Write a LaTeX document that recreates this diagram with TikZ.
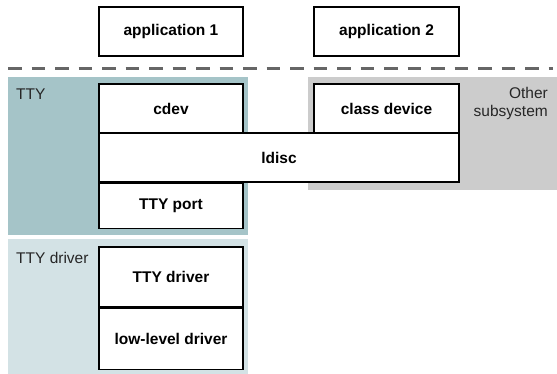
\documentclass[tikz,border=0pt]{standalone}
\usepackage{fontspec}
\setmainfont{Liberation Sans}
\definecolor{tty}{HTML}{A5C4C8}
\definecolor{drv}{HTML}{D3E2E5}
\definecolor{oth}{HTML}{CCCCCC}
\definecolor{sep}{HTML}{666666}
\usetikzlibrary{positioning}

\tikzset{
  layer/.style={draw=black,line width=1.2pt,fill=white,inner sep=0pt,
    font=\fontsize{15.5}{18}\selectfont\bfseries},
  area/.style={font=\fontsize{15.5}{18}\selectfont,inner sep=0pt,text=black!85}
}

\begin{document}
\begin{tikzpicture}[x=1pt,y=-1pt]
			\useasboundingbox (0,0) rectangle (557,374);

			% Background areas
			\fill[tty] (8,77) rectangle (248,235);
			\fill[drv] (8,239) rectangle (248,374);
			\fill[oth] (308,77) rectangle (557,190);

			% User space / kernel line
			\coordinate (sepL) at (8,68.5);
			\coordinate (sepR) at (553,68.5);
			\draw[sep,line width=3pt,dash pattern=on 13.5pt off 10pt] (sepL) -- (sepR);

			% Applications
			\node[layer,minimum width=144pt,minimum height=49pt] (app1) at (171,31.5) {application 1};
			\node[layer,minimum width=145pt,minimum height=49pt] (app2) at (386.5,31.5) {application 2};

			% TTY layers
			\node[layer,minimum width=144pt,minimum height=49pt] (cdev) at (171,108.5) {cdev};
			\node[layer,minimum width=145pt,minimum height=49pt] (classdev) at (386.5,108.5) {class device};
			\node[layer,minimum width=360pt,minimum height=49pt] (ldisc) at (279,157.5) {ldisc};
			\node[layer,minimum width=144pt,minimum height=45pt,below=0pt of ldisc.south west,anchor=north west] (port) {TTY port};

			% Driver layers
			\node[layer,minimum width=144pt,minimum height=60pt] (ttydrv) at (171,277) {TTY driver};
			\node[layer,minimum width=144pt,minimum height=61pt,below=0pt of ttydrv] (lowdrv) {low-level driver};

			% Area labels
			\node[area,anchor=base west] (ttylbl) at (16,100) {TTY};
			\node[area,anchor=base west] (drvlbl) at (16,264) {TTY driver};
			\node[area,anchor=north east,align=right] (othlbl) at (548,87) {Other\\subsystem};
		\end{tikzpicture}
\end{document}
